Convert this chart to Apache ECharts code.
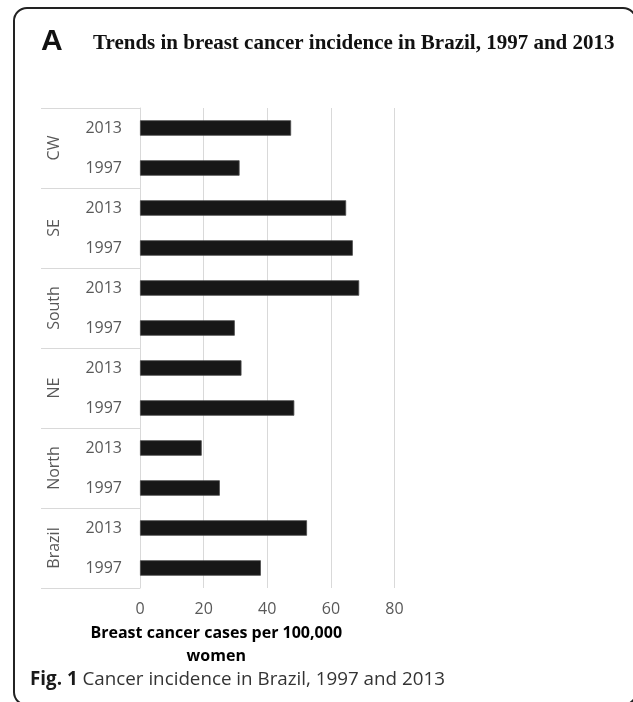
<!DOCTYPE html>
<html>
<head>
<meta charset="utf-8">
<script src="https://cdn.jsdelivr.net/npm/echarts@6/dist/echarts.min.js"></script>
<style>
  html, body { margin: 0; padding: 0; background: #fff; }
  #chart { width: 633px; height: 702px; }
</style>
</head>
<body>
<div id="chart"></div>
<script>
// Region groups, listed bottom to top as the category axis draws them
const regions = ['Brazil', 'North', 'NE', 'South', 'SE', 'CW'];
const years = ['1997', '2013'];
// Incidence per 100,000 women, one entry per region/year row (bottom to top)
const incidence1997 = [38.0, 25.1, 48.5, 29.8, 66.9, 31.3];
const incidence2013 = [52.5, 19.4, 31.9, 68.9, 64.8, 47.5];
const xTicks = [0, 20, 40, 60, 80];

// Flatten into year rows within each region
const rowLabels = [];
const rowValues = [];
regions.forEach((r, i) => {
  rowLabels.push(years[0]); rowValues.push(incidence1997[i]);
  rowLabels.push(years[1]); rowValues.push(incidence2013[i]);
});

const gray = '#595959';
const lightGray = '#d9d9d9';
const sans = '"Open Sans", sans-serif';

const chart = echarts.init(document.getElementById('chart'), null, { renderer: 'canvas' });

chart.setOption({
  animation: false,
  backgroundColor: '#fff',
  grid: { left: 140, right: 238.5, top: 108, bottom: 114, containLabel: false },
  xAxis: {
    type: 'value',
    min: xTicks[0],
    max: xTicks[xTicks.length - 1],
    interval: 20,
    axisLine: { show: false },
    axisTick: { show: false },
    splitLine: { lineStyle: { color: lightGray, width: 1 } },
    axisLabel: { color: gray, fontFamily: sans, fontSize: 16, margin: 13 },
    name: 'Breast cancer cases per 100,000\nwomen',
    nameLocation: 'middle',
    nameGap: 32,
    nameTextStyle: {
      color: '#000', fontFamily: sans, fontWeight: 'bold', fontSize: 16,
      lineHeight: 23, align: 'center', padding: [0, 102, 0, 0]
    }
  },
  yAxis: [
    {
      type: 'category',
      data: rowLabels,
      position: 'left',
      axisLine: { show: true, lineStyle: { color: lightGray, width: 1 } },
      axisTick: { show: false },
      axisLabel: { color: gray, fontFamily: sans, fontSize: 16, margin: 18 }
    },
    {
      type: 'category',
      data: regions,
      position: 'left',
      axisLine: { show: false },
      axisTick: { show: true, length: 99, lineStyle: { color: lightGray, width: 1 } },
      axisLabel: {
        color: gray, fontFamily: sans, fontSize: 16, rotate: 90, margin: 86,
        align: 'center', verticalAlign: 'middle'
      }
    }
  ],
  series: [{
    type: 'bar',
    yAxisIndex: 0,
    data: rowValues,
    barWidth: 15.5,
    itemStyle: { color: '#171717', borderColor: '#4a4a4a', borderWidth: 0.8 },
    silent: true
  }],
  graphic: [
    {
      type: 'rect',
      shape: { x: 14, y: 8, width: 622, height: 697, r: 13 },
      style: { fill: 'none', stroke: '#222', lineWidth: 2 },
      silent: true
    },
    {
      type: 'text', left: 41, top: 27,
      style: { text: 'A', fill: '#111', font: 'bold 30px "Liberation Sans", Arial, sans-serif' }
    },
    {
      type: 'text', left: 93, top: 33,
      style: { text: 'Trends in breast cancer incidence in Brazil, 1997 and 2013',
               fill: '#111', font: 'bold 21px "Liberation Serif", "Times New Roman", serif' }
    },
    {
      type: 'text', left: 30, top: 670,
      style: {
        text: '{b|Fig. 1} Cancer incidence in Brazil, 1997 and 2013',
        rich: {
          b: { fontFamily: sans, fontWeight: 'bold', fontSize: 18.8, fill: '#1a1a1a' }
        },
        fontFamily: sans, fontSize: 18.8, fill: '#333'
      }
    }
  ]
});
</script>
</body>
</html>
